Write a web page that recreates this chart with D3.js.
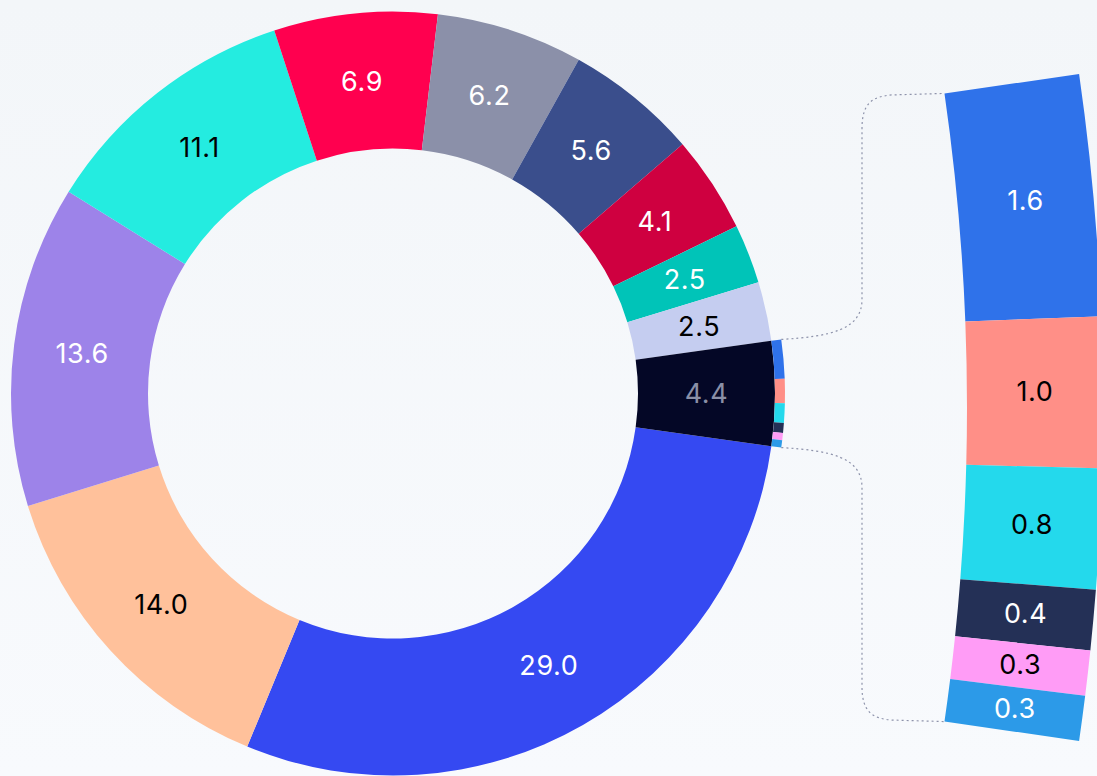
<!DOCTYPE html>
<html>
<head>
<meta charset="utf-8">
<script src="https://cdn.jsdelivr.net/npm/d3@7"></script>
<style>
  html, body { margin: 0; padding: 0; }
  body { width: 1097px; height: 776px; overflow: hidden; }
  text { font-family: Inter, "Noto Sans", sans-serif; letter-spacing: 0.6px; }
</style>
</head>
<body>
<script>
// main donut values (clockwise from the "other" slice)
var mainValues = [29.0, 14.0, 13.6, 11.1, 6.9, 6.2, 5.6, 4.1, 2.5, 2.5];
// breakdown of the "other" slice
var otherValues = [1.6, 1.0, 0.8, 0.4, 0.3, 0.3];

var mainColors = ['#3549f2','#ffc19b','#9d83e9','#24ece0','#ff004f','#8b90a9','#3a4e8c','#cf0040','#00c4b8','#c5cdf0'];
var mainText   = ['#ffffff','#000000','#ffffff','#000000','#ffffff','#ffffff','#ffffff','#ffffff','#ffffff','#000000'];
var otherColor = '#040726', otherTextColor = '#8a8fa6';
var smallColors = ['#2f72ea','#ff8f87','#24d9ec','#243056','#ff9cf6','#2c9ae8'];
var smallText   = ['#ffffff','#000000','#000000','#ffffff','#000000','#ffffff'];

var width = 1097, height = 776;
var cx = 393, cy = 393.5, rOuter = 382, rInner = 245, rStrip = 392;
var bx = -1235, by = 407.5, bInner = 2202, bOuter = 2338, bHalf = 8.2 * Math.PI / 180;
var fmt = d3.format('.1f');

var svg = d3.select('body').append('svg').attr('width', width).attr('height', height);

var grad = svg.append('defs').append('linearGradient').attr('id','bg')
  .attr('x1',0).attr('y1',0).attr('x2',0).attr('y2',1);
grad.append('stop').attr('offset','0%').attr('stop-color','#f3f6f9');
grad.append('stop').attr('offset','100%').attr('stop-color','#f8fafd');
svg.append('rect').attr('width', width).attr('height', height).attr('fill','url(#bg)');

var otherTotal = d3.sum(otherValues);
var allValues = mainValues.concat([otherTotal]);
var total = d3.sum(allValues);
var otherSpan = otherTotal / total * 2 * Math.PI;
var start = Math.PI / 2 + otherSpan / 2;

var pie = d3.pie().sort(null).value(function(d){ return d; })
  .startAngle(start).endAngle(start + 2 * Math.PI);
var arcs = pie(allValues);

var arc = d3.arc().innerRadius(rInner).outerRadius(rOuter);

var g = svg.append('g').attr('transform','translate(' + cx + ',' + cy + ')');

g.selectAll('path.slice')
  .data(arcs)
  .enter().append('path')
    .attr('class','slice')
    .attr('d', arc)
    .attr('fill', function(d,i){ return i < mainValues.length ? mainColors[i] : otherColor; });

g.selectAll('text.lbl')
  .data(arcs)
  .enter().append('text')
    .attr('class','lbl')
    .attr('transform', function(d){ return 'translate(' + arc.centroid(d) + ')'; })
    .attr('text-anchor','middle')
    .attr('dy','0.36em')
    .attr('font-size', 27)
    .attr('fill', function(d,i){ return i < mainValues.length ? mainText[i] : otherTextColor; })
    .text(function(d){ return fmt(d.data); });

// thin strip on the outside of the "other" slice
var otherArc = arcs[arcs.length - 1];
var stripPie = d3.pie().sort(null).value(function(d){ return d; })
  .startAngle(otherArc.startAngle - 2 * Math.PI).endAngle(otherArc.endAngle - 2 * Math.PI);
var stripArc = d3.arc().innerRadius(rOuter).outerRadius(rStrip);
g.selectAll('path.strip')
  .data(stripPie(otherValues))
  .enter().append('path')
    .attr('class','strip')
    .attr('d', stripArc)
    .attr('fill', function(d,i){ return smallColors[i]; });

// magnified bar on the right
var barPie = d3.pie().sort(null).value(function(d){ return d; })
  .startAngle(Math.PI / 2 - bHalf).endAngle(Math.PI / 2 + bHalf);
var barArc = d3.arc().innerRadius(bInner).outerRadius(bOuter);
var bg = svg.append('g').attr('transform','translate(' + bx + ',' + by + ')');
var barArcs = barPie(otherValues);

bg.selectAll('path.bar')
  .data(barArcs)
  .enter().append('path')
    .attr('class','bar')
    .attr('d', barArc)
    .attr('fill', function(d,i){ return smallColors[i]; });

bg.selectAll('text.blbl')
  .data(barArcs)
  .enter().append('text')
    .attr('class','blbl')
    .attr('transform', function(d){ return 'translate(' + barArc.centroid(d) + ')'; })
    .attr('text-anchor','middle')
    .attr('dy','0.32em')
    .attr('font-size', 27)
    .attr('fill', function(d,i){ return smallText[i]; })
    .text(function(d){ return fmt(d.data); });

// dotted connectors
function polar(x0, y0, r, a){ return [x0 + r * Math.sin(a), y0 - r * Math.cos(a)]; }
var xv = 862;
function connector(p, q){
  var s = q[1] < p[1] ? -1 : 1;
  var path = d3.path();
  path.moveTo(p[0], p[1]);
  path.bezierCurveTo(p[0] + 50, p[1] + s * 3, xv, p[1] + s * 10, xv, p[1] + s * 40);
  path.lineTo(xv, q[1] - s * 35);
  path.bezierCurveTo(xv, q[1] - s * 10, xv + 10, q[1] - s * 3, xv + 30, q[1] - s * 1.5);
  path.lineTo(q[0], q[1]);
  return path.toString();
}
var links = [
  [polar(cx, cy, rStrip, otherArc.startAngle), polar(bx, by, bInner, Math.PI / 2 - bHalf)],
  [polar(cx, cy, rStrip, otherArc.endAngle), polar(bx, by, bInner, Math.PI / 2 + bHalf)]
];
svg.selectAll('path.link')
  .data(links)
  .enter().append('path')
    .attr('class','link')
    .attr('d', function(d){ return connector(d[0], d[1]); })
    .attr('fill','none')
    .attr('stroke','#8e93ab')
    .attr('stroke-width', 1.2)
    .attr('stroke-dasharray','2,3');
</script>
</body>
</html>
